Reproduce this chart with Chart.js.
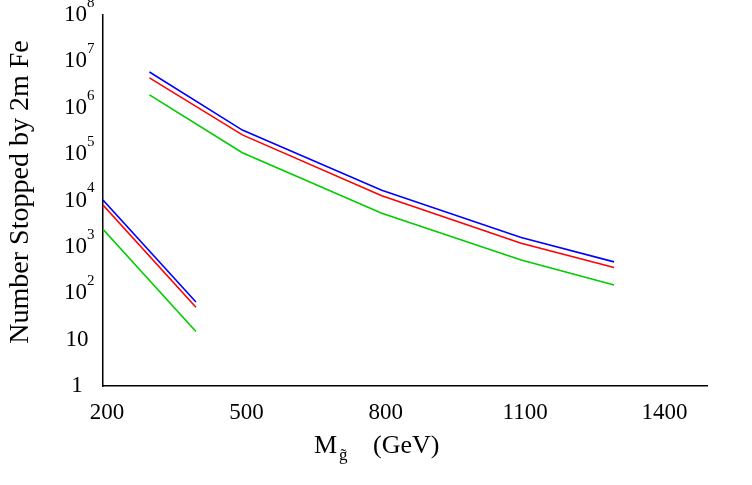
<!DOCTYPE html>
<html>
<head>
<meta charset="utf-8">
<script src="https://cdn.jsdelivr.net/npm/chart.js@4/dist/chart.umd.min.js"></script>
<style>
  html, body { margin: 0; padding: 0; background: #fff; }
  #wrap { width: 752px; height: 485px; }
</style>
</head>
<body>
<div id="wrap"><canvas id="stop-chart"></canvas></div>
<script>
// gluino masses (GeV)
var massLow = [200, 400]
var massHigh = [300, 500, 800, 1100, 1300]

// number stopped by 2m Fe
var blueLow = [10200, 65]
var redLow = [8000, 50]
var greenLow = [2400, 15]
var blueHigh = [5.9e6, 3.3e5, 1.67e4, 1600, 475]
var redHigh = [4.4e6, 2.6e5, 1.26e4, 1200, 360]
var greenHigh = [1.9e6, 1.07e5, 5300, 520, 150]

var xTicks = [200, 500, 800, 1100, 1400]
var yTicks = [1, 10, 100, 1e3, 1e4, 1e5, 1e6, 1e7, 1e8]

var serif = '"Liberation Serif", "DejaVu Serif", serif'

function pts(xs, ys) {
    return xs.map(function (x, i) { return { x: x, y: ys[i] } })
}

function line(xs, ys, color) {
    return {
        data: pts(xs, ys),
        borderColor: color,
        borderWidth: 1.6,
        pointRadius: 0,
        tension: 0,
        fill: false
    }
}

// draws tick labels (with exponents) and axis titles
var labelPlugin = {
    id: 'labels',
    afterDraw: function (chart) {
        var ctx = chart.ctx
        var xs = chart.scales.x
        var ys = chart.scales.y
        ctx.save()
        ctx.fillStyle = '#000'

        ctx.font = '23px ' + serif
        ctx.textAlign = 'center'
        ctx.textBaseline = 'middle'
        xTicks.forEach(function (v) {
            ctx.fillText(String(v), xs.getPixelForValue(v) + 4, 413)
        })

        yTicks.forEach(function (v) {
            var py = ys.getPixelForValue(v)
            var exp = Math.round(Math.log10(v))
            if (exp < 2) {
                ctx.font = '23px ' + serif
                ctx.textAlign = 'center'
                ctx.fillText(String(v), 77, py)
            } else {
                ctx.font = '23px ' + serif
                ctx.textAlign = 'left'
                ctx.fillText('10', 64, py)
                ctx.font = '15px ' + serif
                ctx.fillText(String(exp), 87, py - 12)
            }
        })

        // y title
        ctx.save()
        ctx.translate(28, 192)
        ctx.rotate(-Math.PI / 2)
        ctx.font = '28px ' + serif
        ctx.textAlign = 'center'
        ctx.textBaseline = 'alphabetic'
        ctx.fillText('Number Stopped by 2m Fe', 0, 0)
        ctx.restore()

        // x title
        ctx.textBaseline = 'alphabetic'
        ctx.textAlign = 'left'
        ctx.font = '26px ' + serif
        ctx.fillText('M', 314, 453)
        ctx.font = '17px ' + serif
        ctx.fillText('g\u0303', 339, 460)
        ctx.font = '26px ' + serif
        ctx.fillText('(GeV)', 373, 453)
        ctx.restore()
    }
}

var config = {
    type: 'line',
    data: {
        datasets: [
            line(massLow, blueLow, '#0000ff'),
            line(massLow, redLow, '#ff0000'),
            line(massLow, greenLow, '#00cc00'),
            line(massHigh, blueHigh, '#0000ff'),
            line(massHigh, redHigh, '#ff0000'),
            line(massHigh, greenHigh, '#00cc00')
        ]
    },
    options: {
        responsive: true,
        maintainAspectRatio: false,
        animation: false,
        layout: {
            padding: { left: 95, right: 45, top: 15, bottom: 91 }
        },
        plugins: {
            legend: { display: false },
            tooltip: { enabled: false }
        },
        scales: {
            x: {
                type: 'linear',
                min: 200,
                max: 1500,
                grid: { display: false },
                border: { display: true, color: '#000', width: 1.5 },
                ticks: { display: false }
            },
            y: {
                type: 'logarithmic',
                min: 1,
                max: 1e8,
                grid: { display: false },
                border: { display: true, color: '#000', width: 1.5 },
                ticks: { display: false }
            }
        }
    },
    plugins: [labelPlugin]
}

new Chart(document.getElementById('stop-chart').getContext('2d'), config)
</script>
</body>
</html>
